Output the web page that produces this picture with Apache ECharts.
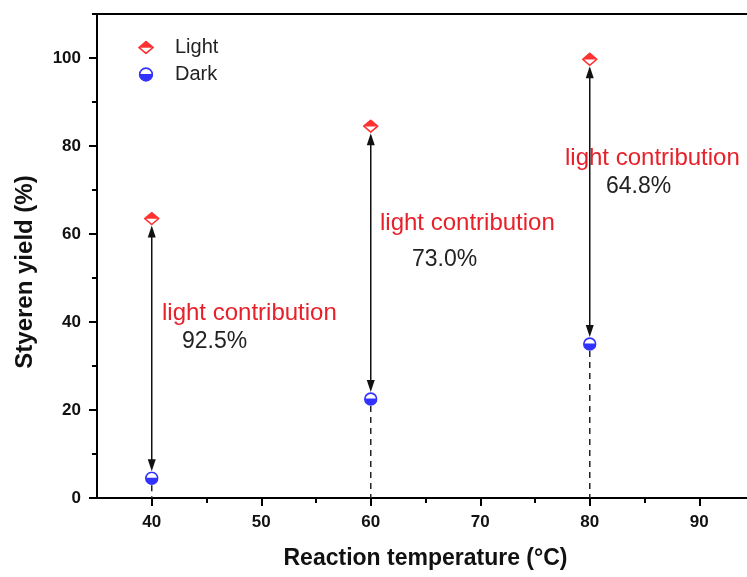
<!DOCTYPE html>
<html>
<head>
<meta charset="utf-8">
<script src="https://cdn.jsdelivr.net/npm/echarts@6/dist/echarts.min.js"></script>
<style>
html, body { margin: 0; padding: 0; background: #fff; }
#main { width: 747px; height: 577px; }
</style>
</head>
<body>
<div id="main"></div>
<script>
// data
var temps = [40, 60, 80];
var lightYield = [63.5, 84.5, 99.7];
var darkYield = [4.5, 22.5, 35.0];
var contribution = ['92.5%', '73.0%', '64.8%'];

var xMajor = [40, 50, 60, 70, 80, 90];
var xMinor = [45, 55, 65, 75, 85, 95];
var yMajor = [0, 20, 40, 60, 80, 100];
var yMinor = [10, 30, 50, 70, 90, 110];

// half filled markers as little svg images
function svgIcon(svg) {
    return 'image://data:image/svg+xml;charset=utf-8,' + encodeURIComponent(svg);
}
var lightIcon = svgIcon(
    "<svg xmlns='http://www.w3.org/2000/svg' width='30' height='26' viewBox='0 0 30 26'>" +
    "<path d='M2 13 L15 2 L28 13 L15 24 Z' fill='#fff' stroke='#f00' stroke-width='3'/>" +
    "<path d='M1 13.5 L15 1 L29 13.5 Z' fill='#f00'/></svg>");
var darkIcon = svgIcon(
    "<svg xmlns='http://www.w3.org/2000/svg' width='26' height='26' viewBox='0 0 26 26'>" +
    "<circle cx='13' cy='13' r='11' fill='#fff' stroke='#00f' stroke-width='3'/>" +
    "<path d='M1.5 12 L24.5 12 A11.5 11.5 0 0 1 1.5 12 Z' fill='#00f'/></svg>");

var lightData = temps.map(function (t, i) { return [t, lightYield[i]]; });
var darkData = temps.map(function (t, i) { return [t, darkYield[i]]; });
var arrowData = temps.map(function (t, i) { return [t, lightYield[i], darkYield[i]]; });

var myChart = echarts.init(document.getElementById('main'));

function renderArrow(params, api) {
    var x = api.value(0);
    var top = api.coord([x, api.value(1)]);
    var bot = api.coord([x, api.value(2)]);
    var base = api.coord([x, 0]);
    var gap = 7, ah = 12, aw = 4;
    var t = top[1] + gap, b = bot[1] - gap;
    var st = {stroke: '#111', lineWidth: 1.5};
    return {
        type: 'group',
        children: [
            {type: 'line', shape: {x1: top[0], y1: t + 4, x2: top[0], y2: b - 4}, style: st},
            {type: 'polygon', shape: {points: [[top[0], t], [top[0] - aw, t + ah], [top[0] + aw, t + ah]]}, style: {fill: '#111'}},
            {type: 'polygon', shape: {points: [[bot[0], b], [bot[0] - aw, b - ah], [bot[0] + aw, b - ah]]}, style: {fill: '#111'}},
            {type: 'line', shape: {x1: bot[0], y1: bot[1] + gap, x2: base[0], y2: base[1]},
                style: {stroke: '#222', lineWidth: 1.5, lineDash: [6, 5]}}
        ]
    };
}

var labelFont = {fontFamily: 'Liberation Sans, Arial', fontWeight: 'bold', fontSize: 17, color: '#111'};
var axisLineStyle = {color: '#000', width: 2};
var annFont = '24px "Liberation Sans", Arial';
var pctFont = '23px "Liberation Sans", Arial';

var option = {
    animation: false,
    backgroundColor: '#fff',
    grid: {left: 97, top: 14, width: 657, height: 484, outerBoundsMode: 'none'},
    legend: {
        orient: 'vertical',
        left: 133,
        top: 32,
        itemWidth: 16,
        itemHeight: 15,
        itemGap: 6,
        data: [{name: 'Light', icon: lightIcon}, {name: 'Dark', icon: darkIcon}],
        textStyle: {fontFamily: 'Liberation Sans, Arial', fontSize: 20, color: '#222',
            lineHeight: 21, padding: [0, 0, 0, 16]}
    },
    xAxis: [{
        type: 'value', min: 35, max: 95, position: 'bottom',
        name: 'Reaction temperature (°C)', nameLocation: 'middle', nameGap: 49,
        nameTextStyle: {fontFamily: 'Liberation Sans, Arial', fontWeight: 'bold', fontSize: 23, color: '#111'},
        axisLine: {lineStyle: axisLineStyle},
        axisTick: {customValues: xMajor, length: 8, lineStyle: {color: '#000', width: 2}},
        axisLabel: Object.assign({customValues: xMajor, margin: 16}, labelFont),
        splitLine: {show: false}
    }, {
        type: 'value', min: 35, max: 95, position: 'bottom',
        axisLine: {show: false},
        axisTick: {customValues: xMinor, length: 5, lineStyle: {color: '#000', width: 2}},
        axisLabel: {show: false},
        splitLine: {show: false}
    }, {
        type: 'value', min: 35, max: 95, position: 'top',
        axisLine: {lineStyle: axisLineStyle},
        axisTick: {show: false},
        axisLabel: {show: false},
        splitLine: {show: false}
    }],
    yAxis: [{
        type: 'value', min: 0, max: 110, position: 'left',
        name: 'Styeren yield (%)', nameLocation: 'middle', nameGap: 60,
        nameTextStyle: {fontFamily: 'Liberation Sans, Arial', fontWeight: 'bold', fontSize: 24, color: '#111',
            padding: [0, 32, 0, 0]},
        axisLine: {lineStyle: axisLineStyle},
        axisTick: {customValues: yMajor, length: 8, lineStyle: {color: '#000', width: 2}},
        axisLabel: Object.assign({customValues: yMajor, margin: 16}, labelFont),
        splitLine: {show: false}
    }, {
        type: 'value', min: 0, max: 110, position: 'left',
        axisLine: {show: false},
        axisTick: {customValues: yMinor, length: 5, lineStyle: {color: '#000', width: 2}},
        axisLabel: {show: false},
        splitLine: {show: false}
    }],
    series: [{
        type: 'custom',
        name: 'arrows',
        renderItem: renderArrow,
        data: arrowData,
        z: 2,
        silent: true
    }, {
        type: 'scatter',
        name: 'Light',
        symbol: lightIcon,
        symbolSize: [16, 14],
        data: lightData,
        z: 5
    }, {
        type: 'scatter',
        name: 'Dark',
        symbol: darkIcon,
        symbolSize: [14, 14],
        data: darkData,
        z: 5
    }],
    graphic: [
        {type: 'text', left: 162, top: 301, style: {text: 'light contribution', fill: '#e8202a', font: annFont}},
        {type: 'text', left: 182, top: 330, style: {text: contribution[0], fill: '#222', font: pctFont}},
        {type: 'text', left: 380, top: 211, style: {text: 'light contribution', fill: '#e8202a', font: annFont}},
        {type: 'text', left: 412, top: 248, style: {text: contribution[1], fill: '#222', font: pctFont}},
        {type: 'text', left: 565, top: 146, style: {text: 'light contribution', fill: '#e8202a', font: annFont}},
        {type: 'text', left: 606, top: 175, style: {text: contribution[2], fill: '#222', font: pctFont}}
    ]
};
myChart.setOption(option);
</script>
</body>
</html>
